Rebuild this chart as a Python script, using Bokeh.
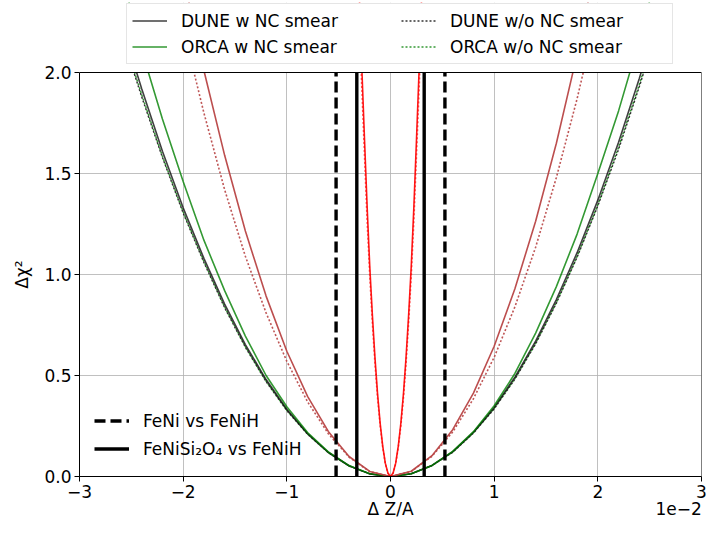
from bokeh.plotting import figure
from bokeh.models import Range1d, FixedTicker, Legend, LegendItem, LinearAxis, BoxAnnotation
from bokeh.embed import file_html
from bokeh.resources import INLINE

# ---------------- data ----------------
x_wide = [-2.6, -2.4, -2.2, -2.0, -1.8, -1.6, -1.4, -1.2, -1.0, -0.8, -0.6, -0.4, -0.2, 0.0,
          0.2, 0.4, 0.6, 0.8, 1.0, 1.2, 1.4, 1.6, 1.8, 2.0, 2.2, 2.4, 2.6]
dune_nc = [2.25, 1.92, 1.61, 1.33, 1.08, 0.853, 0.653, 0.48, 0.333, 0.213, 0.12, 0.053, 0.013, 0.0,
           0.014, 0.055, 0.123, 0.219, 0.342, 0.492, 0.67, 0.876, 1.108, 1.368, 1.655, 1.97, 2.31]
orca_nc = [2.50, 2.11, 1.77, 1.46, 1.17, 0.92, 0.695, 0.50, 0.345, 0.218, 0.122, 0.054, 0.0135, 0.0,
           0.0135, 0.055, 0.124, 0.222, 0.35, 0.51, 0.71, 0.94, 1.2, 1.5, 1.81, 2.16, 2.55]
dune_nonc = [2.20, 1.88, 1.58, 1.305, 1.06, 0.836, 0.64, 0.47, 0.326, 0.209, 0.118, 0.052, 0.013, 0.0,
             0.0135, 0.054, 0.12, 0.215, 0.335, 0.482, 0.657, 0.858, 1.086, 1.34, 1.62, 1.93, 2.26]
orca_nonc = [2.21, 1.89, 1.585, 1.31, 1.065, 0.84, 0.643, 0.472, 0.328, 0.21, 0.118, 0.052, 0.013, 0.0,
             0.0135, 0.054, 0.121, 0.216, 0.337, 0.485, 0.66, 0.862, 1.09, 1.345, 1.63, 1.94, 2.27]

x_mid = [-2.0, -1.8, -1.6, -1.4, -1.2, -1.0, -0.8, -0.6, -0.4, -0.2, 0.0,
         0.2, 0.4, 0.6, 0.8, 1.0, 1.2, 1.4, 1.6, 1.8, 2.0]
brown_nc = [2.48, 2.01, 1.59, 1.215, 0.893, 0.62, 0.397, 0.223, 0.099, 0.025, 0.0,
            0.026, 0.103, 0.232, 0.413, 0.645, 0.929, 1.264, 1.65, 2.09, 2.58]
brown_nonc = [2.22, 1.80, 1.42, 1.09, 0.81, 0.57, 0.37, 0.212, 0.096, 0.024, 0.0,
              0.025, 0.10, 0.22, 0.385, 0.59, 0.84, 1.135, 1.48, 1.87, 2.31]

x_narrow = [-0.3, -0.275, -0.25, -0.225, -0.2, -0.175, -0.15, -0.125, -0.1, -0.075, -0.05, -0.025, 0.0,
            0.025, 0.05, 0.075, 0.1, 0.125, 0.15, 0.175, 0.2, 0.225, 0.25, 0.275, 0.3]
red_nc = [2.37, 2.0, 1.66, 1.33, 1.04, 0.80, 0.59, 0.41, 0.265, 0.15, 0.066, 0.017, 0.0,
          0.017, 0.066, 0.15, 0.265, 0.41, 0.59, 0.80, 1.04, 1.33, 1.66, 2.0, 2.37]
red_nonc = [2.25, 1.90, 1.58, 1.26, 0.99, 0.76, 0.56, 0.39, 0.252, 0.143, 0.063, 0.016, 0.0,
            0.016, 0.063, 0.143, 0.252, 0.39, 0.56, 0.76, 0.99, 1.26, 1.58, 1.90, 2.25]

feni_vs_fenih = [-0.525, 0.525]
fenisi_vs_fenih = [-0.325, 0.325]
line_bottom = [0.0, 0.0]
line_top = [2.0, 2.0]

x_tick_values = [-3, -2, -1, 0, 1, 2, 3]
x_tick_labels = ["\u22123", "\u22122", "\u22121", "0", "1", "2", "3"]
y_tick_values = [0.0, 0.5, 1.0, 1.5, 2.0]
y_tick_labels = ["0.0", "0.5", "1.0", "1.5", "2.0"]
x_axis_title = "\u0394 Z/A"
x_offset_text = "1e\u22122"
y_axis_title = "\u0394\u03c7\u00b2"

legend_top_labels = ["DUNE w NC smear", "ORCA w NC smear", "DUNE w/o NC smear", "ORCA w/o NC smear"]
legend_bottom_labels = ["FeNi vs FeNiH", "FeNiSi\u2082O\u2084 vs FeNiH"]

FONT = "DejaVu Sans"
FS = "17px"

# ---------------- layout (pixels) ----------------
W, H = 707, 522
BORDER_TOP, BORDER_BOTTOM = 2, 46
FRAME_BOTTOM = H - BORDER_BOTTOM          # y = 0 here
PLOT_TOP_PX = 72                          # where y = 2 should sit
Y_MAX = 2.0 * (FRAME_BOTTOM - BORDER_TOP) / (FRAME_BOTTOM - PLOT_TOP_PX)

p = figure(width=W, height=H, output_backend="svg", toolbar_location=None,
           x_range=Range1d(-3, 3), y_range=Range1d(0, Y_MAX),
           min_border_left=79, min_border_right=6,
           min_border_top=BORDER_TOP, min_border_bottom=BORDER_BOTTOM)
p.background_fill_color = "white"
p.border_fill_color = "white"
p.outline_line_color = None

for ax in (p.xaxis[0], p.yaxis[0]):
    ax.major_label_text_font = FONT
    ax.major_label_text_font_size = FS
    ax.major_label_text_color = "black"
    ax.axis_line_color = "black"
    ax.major_tick_line_color = "black"
    ax.major_tick_in = 0
    ax.major_tick_out = 5
    ax.minor_tick_line_color = None
    ax.major_label_standoff = 3

p.xaxis.ticker = FixedTicker(ticks=x_tick_values)
p.xaxis.major_label_overrides = dict(zip(x_tick_values, x_tick_labels))
p.yaxis.ticker = FixedTicker(ticks=y_tick_values)
p.yaxis.major_label_overrides = dict(zip(y_tick_values, y_tick_labels))
p.yaxis.bounds = (0, 2)

# label-only axis on the left: y-axis title centred on the 0..2 span
ytitle_axis = LinearAxis(ticker=FixedTicker(ticks=[1.0]),
                         major_label_overrides={1.0: y_axis_title},
                         major_label_orientation="parallel",
                         axis_line_color=None, major_tick_line_color=None, minor_tick_line_color=None,
                         major_tick_in=0, major_tick_out=0, major_label_standoff=10,
                         major_label_text_font=FONT, major_label_text_font_size=FS,
                         major_label_text_color="black")
p.add_layout(ytitle_axis, "left")

# label-only axis below: carries the x-axis title and the 1e-2 offset text
title_axis = LinearAxis(ticker=FixedTicker(ticks=[0.0, 2.78]),
                        major_label_overrides={0.0: x_axis_title, 2.78: x_offset_text},
                        axis_line_color=None, major_tick_line_color=None, minor_tick_line_color=None,
                        major_tick_in=0, major_tick_out=0, major_label_standoff=-2,
                        major_label_text_font=FONT, major_label_text_font_size=FS,
                        major_label_text_color="black")
p.add_layout(title_axis, "below")

p.grid.grid_line_color = "#b0b0b0"
p.grid.grid_line_width = 1
p.grid.grid_line_alpha = 0.8

# ---------------- curves ----------------
r_on = p.line(x_wide, orca_nonc, line_color="green", line_alpha=0.8, line_width=1.5, line_dash="2 2")
r_dn = p.line(x_wide, dune_nonc, line_color="black", line_alpha=0.8, line_width=1.5, line_dash="2 2")
r_d = p.line(x_wide, dune_nc, line_color="black", line_alpha=0.75, line_width=1.6)
r_o = p.line(x_wide, orca_nc, line_color="green", line_alpha=0.8, line_width=1.6)
p.line(x_mid, brown_nonc, line_color="#b84444", line_alpha=0.9, line_width=1.6, line_dash="2 2")
p.line(x_mid, brown_nc, line_color="#b84444", line_alpha=0.95, line_width=1.6)
p.line(x_narrow, red_nonc, line_color="red", line_alpha=0.6, line_width=1.6, line_dash="2 2")
p.line(x_narrow, red_nc, line_color="red", line_alpha=0.9, line_width=1.6)

r_dash = p.segment(feni_vs_fenih, line_bottom, feni_vs_fenih, line_top,
                   line_color="black", line_width=3.4, line_dash="11 5")
r_solid = p.segment(fenisi_vs_fenih, line_bottom, fenisi_vs_fenih, line_top,
                    line_color="black", line_width=3.4)

# white cover above the axes box (legend area) and the axes box itself
p.add_layout(BoxAnnotation(bottom=2, fill_color="white", fill_alpha=1.0, line_color=None))
p.add_layout(BoxAnnotation(left=-3, right=3, bottom=0, top=2, fill_alpha=0.0,
                           line_color="black", line_width=1, line_alpha=1.0))

# ---------------- legends ----------------
top_legend = Legend(items=[LegendItem(label=legend_top_labels[0], renderers=[r_d]),
                           LegendItem(label=legend_top_labels[1], renderers=[r_o]),
                           LegendItem(label=legend_top_labels[2], renderers=[r_dn]),
                           LegendItem(label=legend_top_labels[3], renderers=[r_on])],
                    location=(47, FRAME_BOTTOM - 64), ncols=2,
                    glyph_width=35, glyph_height=23, label_height=23, label_width=217,
                    label_standoff=14, spacing=3, padding=5, margin=0,
                    label_text_font=FONT, label_text_font_size=FS, label_text_color="black",
                    border_line_color="#cccccc", border_line_width=1,
                    background_fill_color="white", background_fill_alpha=1.0)
p.add_layout(top_legend)

bottom_legend = Legend(items=[LegendItem(label=legend_bottom_labels[0], renderers=[r_dash]),
                              LegendItem(label=legend_bottom_labels[1], renderers=[r_solid])],
                       location=(9, 9),
                       glyph_width=35, glyph_height=25, label_height=25,
                       label_standoff=14, spacing=3, padding=6, margin=0,
                       label_text_font=FONT, label_text_font_size=FS, label_text_color="black",
                       border_line_alpha=0, background_fill_alpha=0)
p.add_layout(bottom_legend)

open("out.html", "w").write(file_html(p, INLINE))
